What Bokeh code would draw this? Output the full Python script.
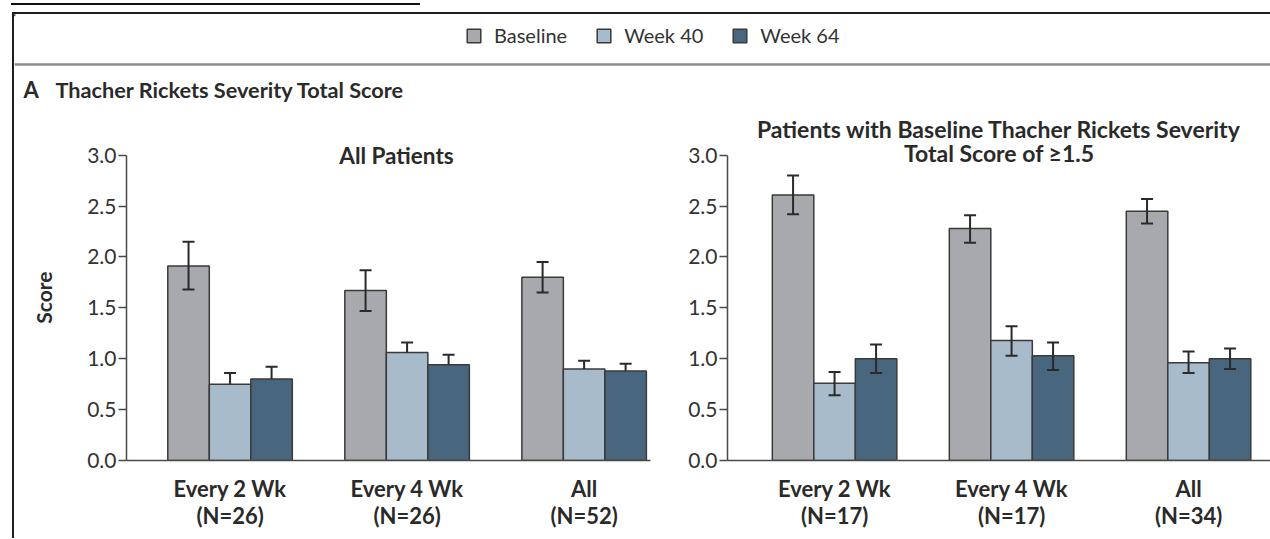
import math
from bokeh.plotting import figure
from bokeh.models import (Range1d, Whisker, ColumnDataSource, TeeHead, Label, Span,
                          Legend, LegendItem, Div, FixedTicker, NumeralTickFormatter)
from bokeh.layouts import column, row
from bokeh.embed import file_html
from bokeh.resources import INLINE

# ---------------- data ----------------
series = ["Baseline", "Week 40", "Week 64"]
colors = ["#a8a9ad", "#a7bbca", "#48677e"]

left_groups = ["Every 2 Wk\n(N=26)", "Every 4 Wk\n(N=26)", "All\n(N=52)"]
left_baseline = [1.91, 1.67, 1.80]
left_baseline_lo = [1.68, 1.47, 1.65]
left_baseline_hi = [2.15, 1.87, 1.95]
left_week40 = [0.75, 1.06, 0.90]
left_week40_hi = [0.86, 1.16, 0.98]
left_week64 = [0.80, 0.94, 0.88]
left_week64_hi = [0.92, 1.04, 0.95]

right_groups = ["Every 2 Wk\n(N=17)", "Every 4 Wk\n(N=17)", "All\n(N=34)"]
right_baseline = [2.61, 2.28, 2.45]
right_baseline_lo = [2.42, 2.14, 2.33]
right_baseline_hi = [2.80, 2.41, 2.57]
right_week40 = [0.76, 1.18, 0.96]
right_week40_lo = [0.64, 1.03, 0.86]
right_week40_hi = [0.87, 1.32, 1.07]
right_week64 = [1.00, 1.03, 1.00]
right_week64_lo = [0.86, 0.89, 0.90]
right_week64_hi = [1.14, 1.16, 1.10]

y_ticks = [0.0, 0.5, 1.0, 1.5, 2.0, 2.5, 3.0]

title_main = "Thacher Rickets Severity Total Score"
title_left = "All Patients"
title_right_1 = "Patients with Baseline Thacher Rickets Severity"
title_right_2 = "Total Score of \u22651.5"
y_label = "Score"

# ---------------- style ----------------
FONT = "Lato"
TXT = "#2a2a2a"
AX = "#4a4a4a"
EDGE = "#3a3a3a"
ERR = "#2a2a2a"
BW = 0.2345
PH = 428
Y_END = 3.39


def panel(width, mbl, mbr, x_start, x_end, groups, vals, los, his):
    p = figure(width=width, height=PH, x_range=Range1d(x_start, x_end), y_range=Range1d(0, Y_END),
               output_backend="svg", toolbar_location=None,
               min_border_left=mbl, min_border_right=mbr, min_border_top=5, min_border_bottom=78)
    p.grid.visible = False
    p.outline_line_color = None
    idx = list(range(len(groups)))
    for k in range(3):
        xs = [i + (k - 1) * BW for i in idx]
        src = ColumnDataSource(dict(x=xs, top=vals[k], lo=los[k], hi=his[k]))
        p.vbar(x="x", top="top", width=BW, fill_color=colors[k], line_color=EDGE,
               line_width=1.5, source=src)
        both = los[k] != vals[k]
        w = Whisker(source=src, base="x", upper="hi", lower="lo", line_color=ERR, line_width=2,
                    upper_head=TeeHead(size=12, line_color=ERR, line_width=2),
                    lower_head=TeeHead(size=12, line_color=ERR, line_width=2) if both else None,
                    level="overlay")
        p.add_layout(w)
    xa = p.xaxis[0]
    xa.ticker = FixedTicker(ticks=idx)
    xa.major_label_overrides = {i: g for i, g in enumerate(groups)}
    xa.major_tick_line_color = None
    xa.minor_tick_line_color = None
    xa.axis_line_color = AX
    xa.axis_line_width = 1.5
    xa.major_label_text_font = FONT
    xa.major_label_text_font_size = "22px"
    xa.major_label_text_font_style = "bold"
    xa.major_label_text_color = TXT
    xa.major_label_text_line_height = 1.0
    xa.major_label_standoff = 8

    ya = p.yaxis[0]
    ya.bounds = (0, 3)
    ya.ticker = FixedTicker(ticks=y_ticks)
    ya.formatter = NumeralTickFormatter(format="0.0")
    ya.major_tick_out = 8
    ya.major_tick_in = 0
    ya.major_tick_line_color = AX
    ya.major_tick_line_width = 1.5
    ya.minor_tick_line_color = None
    ya.axis_line_color = AX
    ya.axis_line_width = 1.5
    ya.major_label_text_font = FONT
    ya.major_label_text_font_size = "21px"
    ya.major_label_text_color = "#333333"
    ya.major_label_standoff = 2
    return p


# narrow strip holding the y-axis title, centred on the 0-3 axis
SW = 50
strip = figure(width=SW, height=PH, x_range=Range1d(0, SW), y_range=Range1d(PH, 0),
               output_backend="svg", toolbar_location=None, min_border=0,
               x_axis_location=None, y_axis_location=None)
strip.grid.visible = False
strip.outline_line_color = None
strip.add_layout(Label(x=29, y=226, text=y_label, angle=math.pi / 2, text_align="center",
                       text_baseline="middle", text_font=FONT, text_font_size="21px",
                       text_font_style="bold", text_color=TXT))

left = panel(654 - SW, 112 - SW, 18, -0.585, 2.375, left_groups,
             [left_baseline, left_week40, left_week64],
             [left_baseline_lo, left_week40, left_week64],
             [left_baseline_hi, left_week40_hi, left_week64_hi])
left.add_layout(Label(x=0.94, y=3.0, text=title_left, text_align="center", text_baseline="middle",
                      text_font=FONT, text_font_size="22.5px", text_font_style="bold", text_color=TXT))

right = panel(602, 59, 0, -0.605, 2.463, right_groups,
              [right_baseline, right_week40, right_week64],
              [right_baseline_lo, right_week40_lo, right_week64_lo],
              [right_baseline_hi, right_week40_hi, right_week64_hi])
right.add_layout(Label(x=0.93, y=3.255, text=title_right_1, text_align="center", text_baseline="middle",
                       text_font=FONT, text_font_size="23px", text_font_style="bold", text_color=TXT))
right.add_layout(Label(x=0.93, y=3.02, text=title_right_2, text_align="center", text_baseline="middle",
                       text_font=FONT, text_font_size="23px", text_font_style="bold", text_color=TXT))

# ---------------- header ----------------
HW, HH = 1256, 96
hdr = figure(width=HW, height=HH, x_range=Range1d(0, HW), y_range=Range1d(HH, 0),
             output_backend="svg", toolbar_location=None, min_border=0,
             x_axis_location=None, y_axis_location=None)
hdr.grid.visible = False
hdr.outline_line_color = None
items = []
for s, c in zip(series, colors):
    # legend key only: placed outside the visible range
    r = hdr.vbar(x=[-100], top=[1], bottom=[0], width=1, fill_color=c, line_color=EDGE, line_width=1.5)
    items.append(LegendItem(label=s, renderers=[r]))
leg = Legend(items=items, orientation="horizontal", location=(451, 63), glyph_width=17, glyph_height=17,
             label_standoff=12, spacing=28, padding=0, margin=0, border_line_color=None,
             background_fill_alpha=0, label_text_font=FONT, label_text_font_size="20px",
             label_text_color="#333333", label_height=17)
hdr.add_layout(leg)
hdr.add_layout(Span(location=50, dimension="width", line_color="#8c8c8c", line_width=2.5))
hdr.add_layout(Label(x=9, y=75, text="A", text_font=FONT, text_font_size="22px", text_font_style="bold",
                     text_color=TXT, text_baseline="alphabetic"))
hdr.add_layout(Label(x=41, y=75, text=title_main, text_font=FONT, text_font_size="21.7px",
                     text_font_style="bold", text_color=TXT, text_baseline="alphabetic"))

underline = Div(text="", width=420, height=2, margin=(3, 0, 0, 0),
                styles={"background": "linear-gradient(to right, rgba(0,0,0,0) 11px, #111111 11px)"})
box = column(hdr, row(strip, left, right), margin=(7, 0, 0, 12),
             styles={"border-top": "2px solid #1e1e1e", "border-left": "2px solid #1e1e1e"})
root = column(underline, box)

open("out.html", "w").write(file_html(root, INLINE))
